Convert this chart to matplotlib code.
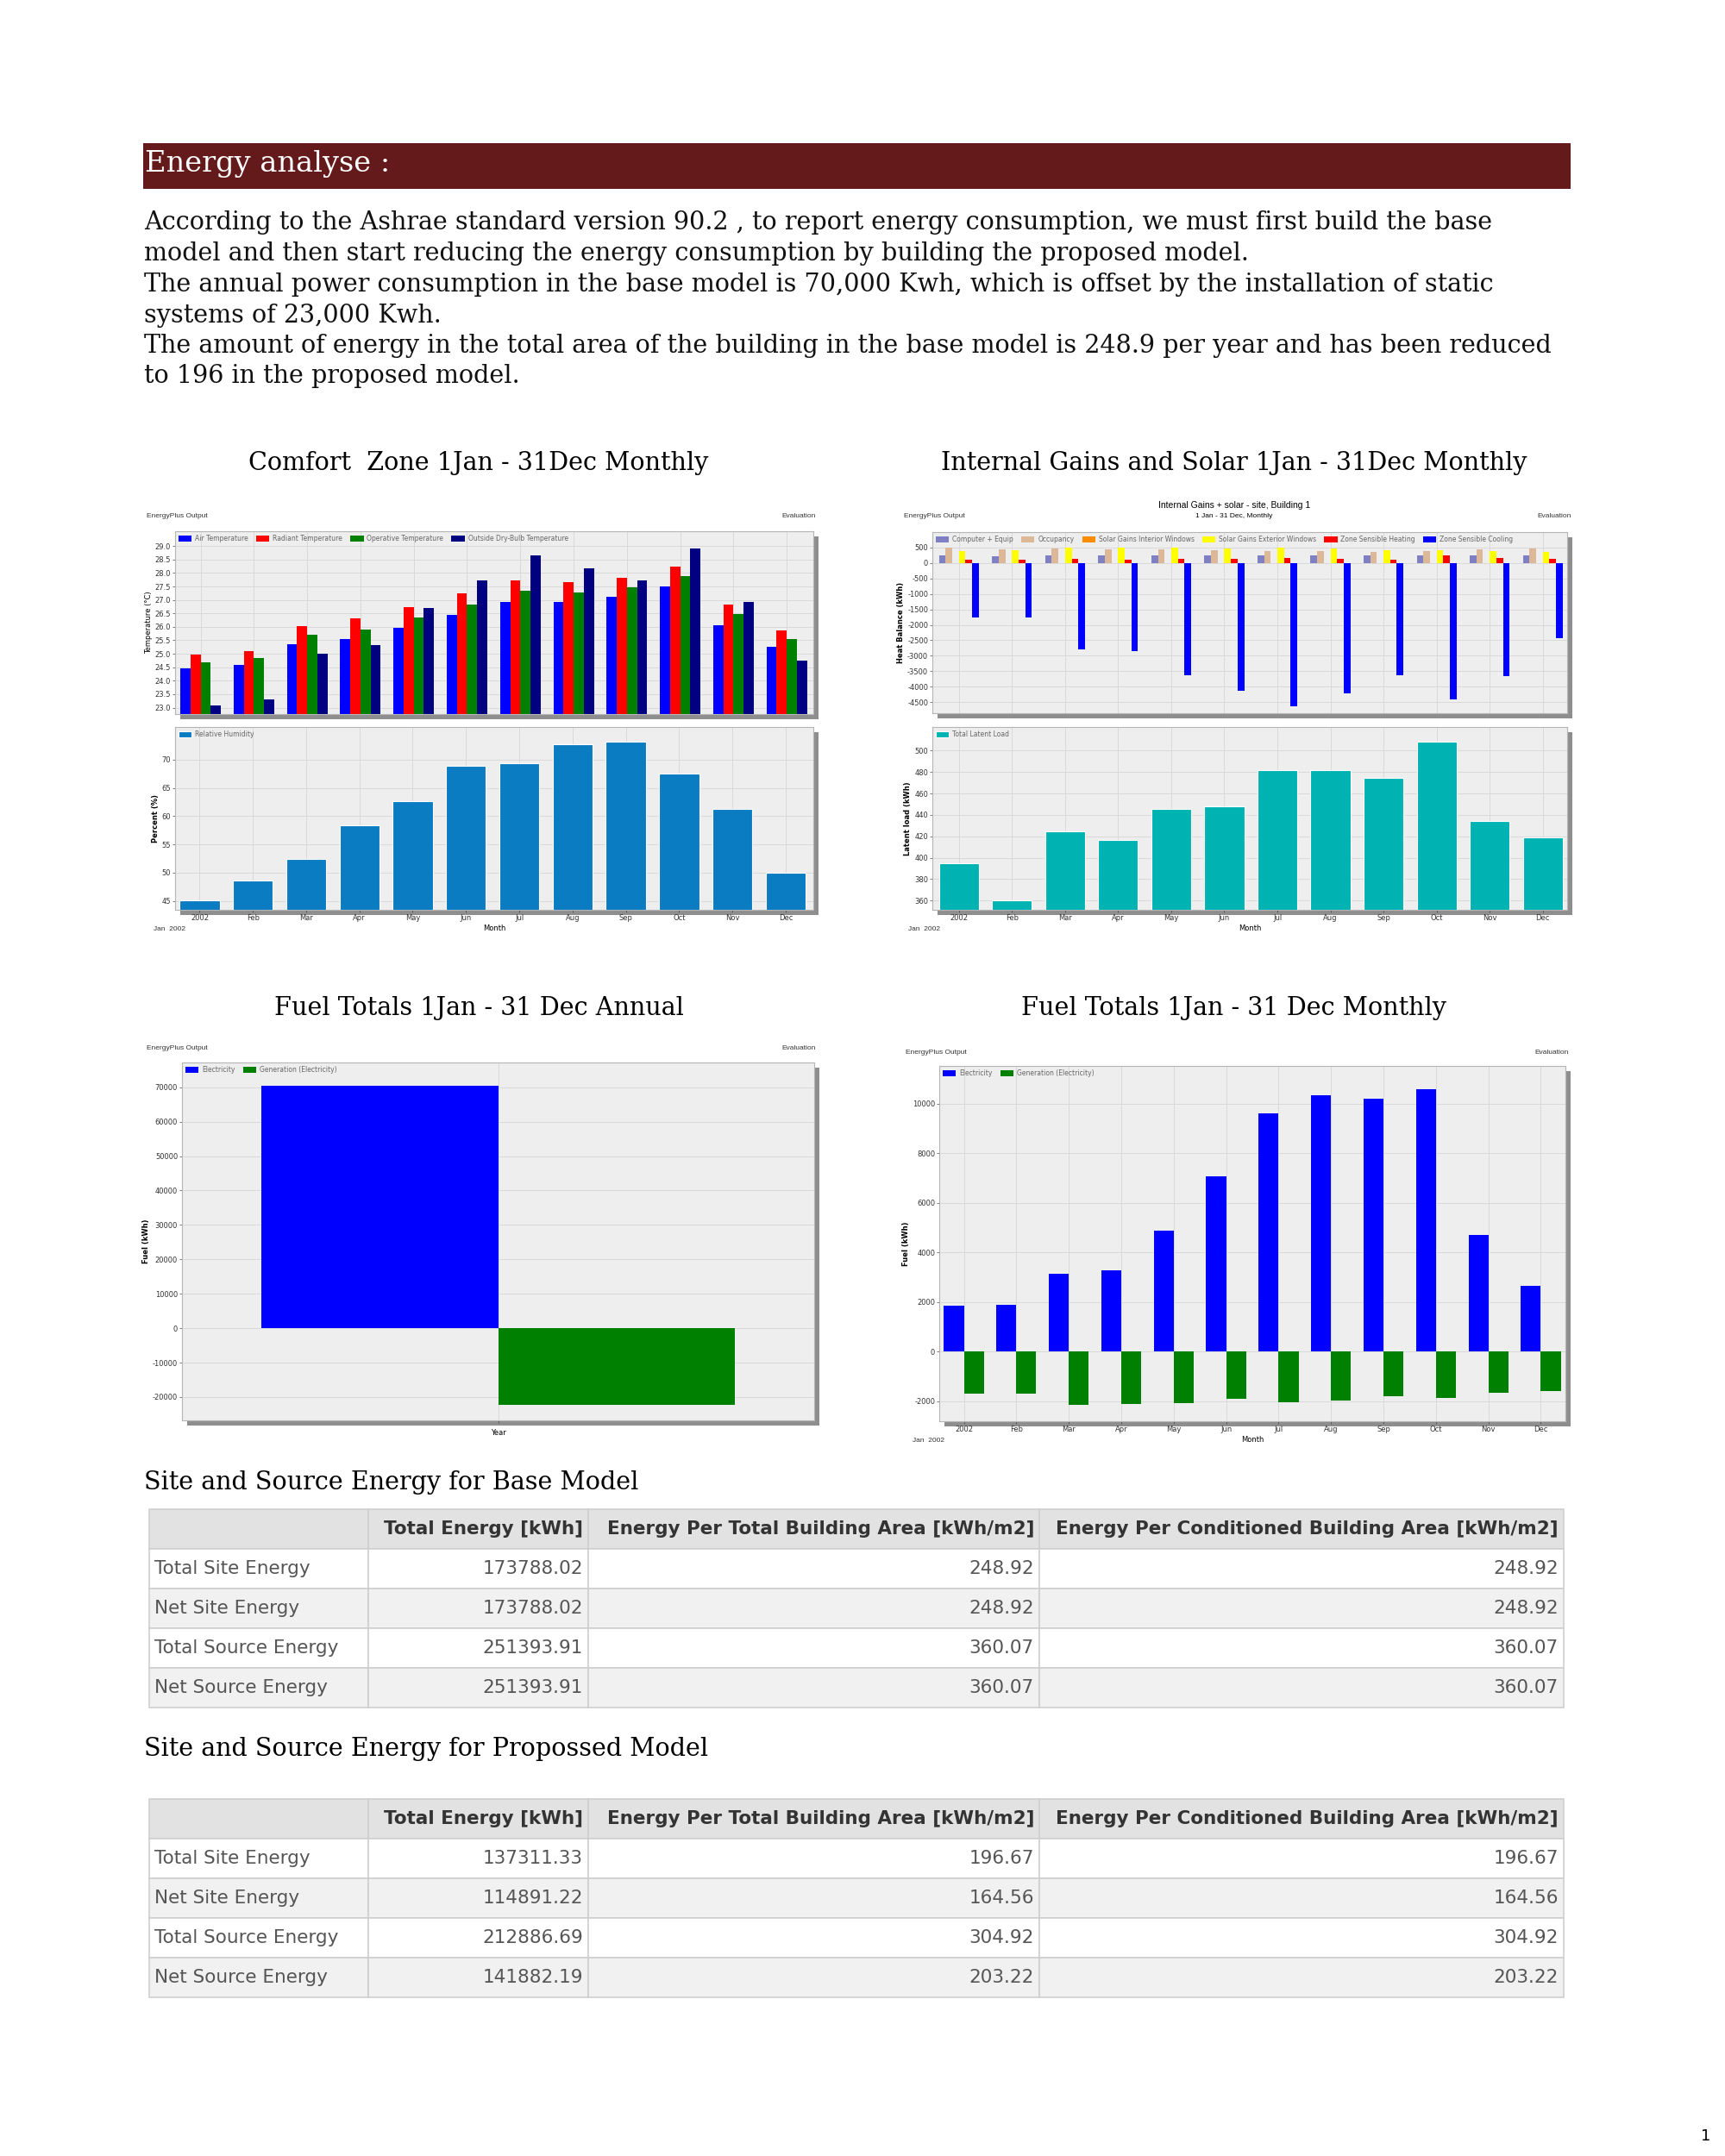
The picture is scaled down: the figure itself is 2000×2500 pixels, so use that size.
import numpy as np
import matplotlib
matplotlib.use("Agg")
import matplotlib.pyplot as plt
from matplotlib.patches import Rectangle
from matplotlib.table import Table

plt.rcParams['axes.unicode_minus'] = False

W, H = 2000, 2500

# ---- data ----
months = ['2002', 'Feb', 'Mar', 'Apr', 'May', 'Jun', 'Jul', 'Aug', 'Sep', 'Oct', 'Nov', 'Dec']

air_temp = [24.47, 24.58, 25.37, 25.54, 25.97, 26.44, 26.93, 26.93, 27.13, 27.51, 26.07, 25.25]
radiant_temp = [24.96, 25.11, 26.04, 26.30, 26.72, 27.25, 27.71, 27.65, 27.83, 28.23, 26.84, 25.86]
operative_temp = [24.69, 24.85, 25.72, 25.91, 26.35, 26.83, 27.33, 27.28, 27.48, 27.87, 26.46, 25.56]
outside_temp = [23.08, 23.32, 25.01, 25.31, 26.69, 27.73, 28.66, 28.17, 27.73, 28.92, 26.93, 24.74]
rel_humidity = [45.1, 48.6, 52.4, 58.4, 62.7, 68.9, 69.4, 72.7, 73.2, 67.5, 61.3, 49.9]

gain_computer = [240, 215, 240, 235, 240, 240, 240, 240, 240, 240, 240, 240]
gain_occupancy = [483, 436, 464, 436, 445, 408, 390, 390, 362, 371, 427, 473]
gain_solar_int = [0] * 12
gain_solar_ext = [371, 399, 501, 501, 501, 464, 501, 464, 418, 418, 371, 343]
zone_heating = [93, 93, 121, 93, 139, 139, 167, 139, 111, 241, 167, 121]
zone_cooling = [-1763, -1763, -2803, -2858, -3628, -4139, -4621, -4213, -3619, -4408, -3656, -2422]
latent_load = [394.5, 360, 424.5, 416.5, 445.7, 447.8, 481.5, 481.5, 474.8, 508, 433.9, 419.2]

annual_electricity = 70400
annual_generation = -22300
monthly_electricity = [1866, 1900, 3152, 3268, 4901, 7080, 9617, 10359, 10208, 10602, 4727, 2642]
monthly_generation = [-1692, -1692, -2144, -2120, -2086, -1900, -2051, -1970, -1784, -1854, -1668, -1587]

row_labels = ['Total Site Energy', 'Net Site Energy', 'Total Source Energy', 'Net Source Energy']
col_labels = ['', 'Total Energy [kWh]', 'Energy Per Total Building Area [kWh/m2]',
              'Energy Per Conditioned Building Area [kWh/m2]']
base_total = [173788.02, 173788.02, 251393.91, 251393.91]
base_per_area = [248.92, 248.92, 360.07, 360.07]
base_per_cond = [248.92, 248.92, 360.07, 360.07]
prop_total = [137311.33, 114891.22, 212886.69, 141882.19]
prop_per_area = [196.67, 164.56, 304.92, 203.22]
prop_per_cond = [196.67, 164.56, 304.92, 203.22]

paragraph = [
    "According to the Ashrae standard version 90.2 , to report energy consumption, we must first build the base",
    "model and then start reducing the energy consumption by building the proposed model.",
    "The annual power consumption in the base model is 70,000 Kwh, which is offset by the installation of static",
    "systems of 23,000 Kwh.",
    "The amount of energy in the total area of the building in the base model is 248.9 per year and has been reduced",
    "to 196 in the proposed model.",
]

SERIF = 'DejaVu Serif'
SANS = 'Liberation Sans'
TXT = '#555555'

fig = plt.figure(figsize=(20, 25), dpi=100)
fig.patch.set_facecolor('white')


def fx(x):
    return x / W


def fy(y):
    return 1 - y / H


def text_px(x, y, s, **kw):
    fig.text(fx(x), fy(y), s, **kw)


def chart_axes(x0, y0, x1, y1):
    # shadow behind the plot box
    fig.patches.append(Rectangle((fx(x0 + 6), fy(y1 + 6)), (x1 - x0) / W, (y1 - y0) / H,
                                 transform=fig.transFigure, facecolor='#8e8e8e',
                                 edgecolor='none', zorder=-1))
    ax = fig.add_axes([fx(x0), fy(y1), (x1 - x0) / W, (y1 - y0) / H])
    ax.set_facecolor('#eeeeee')
    for s in ax.spines.values():
        s.set_color('#b5b5b5')
        s.set_linewidth(0.8)
    ax.grid(True, color='#d9d9d9', linewidth=0.7)
    ax.set_axisbelow(True)
    ax.tick_params(labelsize=6, length=2, width=0.5, colors='#444444', labelcolor='#333333', pad=1.5)
    return ax


def small_legend(ax, ncol):
    ax.legend(loc='upper left', ncol=ncol, frameon=False, fontsize=5.5, handlelength=2.0,
              handleheight=0.9, columnspacing=1.2, handletextpad=0.5,
              borderaxespad=0.15, labelcolor='#666666')


def header_texts(x0, x1, y):
    text_px(x0, y, 'EnergyPlus Output', fontsize=6, family=SANS, color='#333333', va='center')
    text_px(x1, y, 'Evaluation', fontsize=6, family=SANS, color='#333333', va='center', ha='right')


x = np.arange(len(months))

# ---- page header ----
fig.patches.append(Rectangle((fx(166), fy(219)), (1821 - 166) / W, (219 - 166) / H,
                             transform=fig.transFigure, facecolor='#641a1a', edgecolor='none'))
text_px(168, 190, 'Energy analyse :', fontsize=24.2, family=SERIF, color='white', va='center')

line_y = [258, 294, 330, 366, 401, 436]
for s, yy in zip(paragraph, line_y):
    text_px(167, yy, s, fontsize=20.6, family=SERIF, color='#111111', va='center')

# ---- chart titles ----
TS = 20.6
text_px(555, 537, 'Comfort  Zone 1Jan - 31Dec Monthly', fontsize=TS, family=SERIF, ha='center', va='center')
text_px(1431, 537, 'Internal Gains and Solar 1Jan - 31Dec Monthly', fontsize=TS, family=SERIF, ha='center', va='center')
text_px(555, 1169, 'Fuel Totals 1Jan - 31 Dec Annual', fontsize=TS, family=SERIF, ha='center', va='center')
text_px(1431, 1169, 'Fuel Totals 1Jan - 31 Dec Monthly', fontsize=TS, family=SERIF, ha='center', va='center')

# ---- comfort zone ----
header_texts(170, 946, 599)
ax = chart_axes(203, 616, 943, 828)
bw = 0.19
series = [(air_temp, '#0000ff', 'Air Temperature'), (radiant_temp, '#ff0000', 'Radiant Temperature'),
          (operative_temp, '#008000', 'Operative Temperature'),
          (outside_temp, '#000080', 'Outside Dry-Bulb Temperature')]
for i, (vals, c, lab) in enumerate(series):
    ax.bar(x + (i - 1.5) * bw, vals, bw, color=c, label=lab, bottom=0)
ax.set_ylim(22.76, 29.55)
ax.set_yticks(np.arange(23.0, 29.01, 0.5))
ax.set_yticklabels([f'{v:.1f}' for v in np.arange(23.0, 29.01, 0.5)])
ax.set_xlim(-0.48, 11.5)
ax.set_xticks(x)
ax.set_xticklabels([])
ax.tick_params(axis='x', length=0)
ax.set_ylabel('Temperature (°C)', fontsize=6, labelpad=2)
small_legend(ax, 4)

ax = chart_axes(203, 843, 943, 1055)
ax.bar(x, rel_humidity, 0.75, color='#0a7cc1', label='Relative Humidity', edgecolor='white', linewidth=0.8)
ax.set_ylim(43.4, 75.8)
ax.set_yticks(np.arange(45, 71, 5))
ax.set_xlim(-0.46, 11.52)
ax.set_xticks(x)
ax.set_xticklabels(months)
ax.set_ylabel('Percent (%)', fontsize=6, labelpad=2, fontweight='bold')
ax.set_xlabel('Month', fontsize=6, labelpad=2)
small_legend(ax, 1)
text_px(178, 1077, 'Jan  2002', fontsize=6, family=SANS, color='#333333', va='center')

# ---- internal gains ----
text_px(1431, 586, 'Internal Gains + solar - site, Building 1', fontsize=7.5, family=SANS, ha='center', va='center')
text_px(1431, 599, '1 Jan - 31 Dec, Monthly', fontsize=6, family=SANS, ha='center', va='center')
header_texts(1048, 1822, 599)
ax = chart_axes(1081, 617, 1817, 827)
bw = 0.125
gains = [(gain_computer, '#7f7fc4', 'Computer + Equip'), (gain_occupancy, '#ddb898', 'Occupancy'),
         (gain_solar_int, '#ff8c00', 'Solar Gains Interior Windows'),
         (gain_solar_ext, '#ffff00', 'Solar Gains Exterior Windows'),
         (zone_heating, '#ff0000', 'Zone Sensible Heating'), (zone_cooling, '#0000ff', 'Zone Sensible Cooling')]
for i, (vals, c, lab) in enumerate(gains):
    ax.bar(x + (i - 2.5) * bw, vals, bw, color=c, label=lab)
ax.set_ylim(-4850, 990)
ax.set_yticks(np.arange(-4500, 501, 500))
ax.set_xlim(-0.5, 11.46)
ax.set_xticks(x)
ax.set_xticklabels([])
ax.tick_params(axis='x', length=0)
ax.set_ylabel('Heat Balance (kWh)', fontsize=6, labelpad=2, fontweight='bold')
small_legend(ax, 6)

ax = chart_axes(1081, 843, 1817, 1055)
ax.bar(x, latent_load, 0.75, color='#00b3b3', label='Total Latent Load', edgecolor='white', linewidth=0.8)
ax.set_ylim(351.4, 522)
ax.set_yticks(np.arange(360, 501, 20))
ax.set_xlim(-0.5, 11.46)
ax.set_xticks(x)
ax.set_xticklabels(months)
ax.set_ylabel('Latent load (kWh)', fontsize=6, labelpad=2, fontweight='bold')
ax.set_xlabel('Month', fontsize=6, labelpad=2)
small_legend(ax, 1)
text_px(1053, 1077, 'Jan  2002', fontsize=6, family=SANS, color='#333333', va='center')

# ---- fuel totals annual ----
header_texts(170, 946, 1216)
ax = chart_axes(211, 1232, 944, 1647)
ax.bar([-0.1875], [annual_electricity], 0.375, color='#0000ff', label='Electricity')
ax.bar([0.1875], [annual_generation], 0.375, color='#008000', label='Generation (Electricity)')
ax.set_ylim(-26770, 77190)
ax.set_yticks(np.arange(-20000, 70001, 10000))
ax.set_xlim(-0.5, 0.5)
ax.set_xticks([0])
ax.set_xticklabels([''])
ax.set_xlabel('Year', fontsize=6, labelpad=4)
ax.set_ylabel('Fuel (kWh)', fontsize=6, labelpad=2, fontweight='bold')
small_legend(ax, 2)

# ---- fuel totals monthly ----
header_texts(1050, 1819, 1220)
ax = chart_axes(1089, 1236, 1815, 1648)
ax.bar(x - 0.19, monthly_electricity, 0.38, color='#0000ff', label='Electricity')
ax.bar(x + 0.19, monthly_generation, 0.38, color='#008000', label='Generation (Electricity)')
ax.set_ylim(-2804, 11530)
ax.set_yticks(np.arange(-2000, 10001, 2000))
ax.set_xlim(-0.47, 11.47)
ax.set_xticks(x)
ax.set_xticklabels(months)
ax.set_xlabel('Month', fontsize=6, labelpad=2)
ax.set_ylabel('Fuel (kWh)', fontsize=6, labelpad=2, fontweight='bold')
small_legend(ax, 2)
text_px(1058, 1670, 'Jan  2002', fontsize=6, family=SANS, color='#333333', va='center')


# ---- tables ----
def energy_table(y0, y1, totals, per_area, per_cond):
    col_px = [254, 255, 523, 608]
    x0 = 173
    ax = fig.add_axes([fx(x0), fy(y1), sum(col_px) / W, (y1 - y0) / H])
    ax.axis('off')
    tbl = Table(ax, bbox=[0, 0, 1, 1])
    rows = [col_labels] + [[lab, f'{a:.2f}', f'{b:.2f}', f'{c:.2f}']
                           for lab, a, b, c in zip(row_labels, totals, per_area, per_cond)]
    for r, row in enumerate(rows):
        for c, s in enumerate(row):
            if r == 0:
                fc = '#e2e2e2'
            else:
                fc = 'white' if r % 2 == 1 else '#f1f1f1'
            loc = 'left' if (c == 0 and r > 0) else 'right'
            cell = tbl.add_cell(r, c, width=col_px[c], height=1, text=s, loc=loc,
                                facecolor=fc, edgecolor='#cfcfcf')
            cell.PAD = 6 / col_px[c]
            cell.set_linewidth(1.2)
            t = cell.get_text()
            t.set_family('DejaVu Sans')
            if r == 0:
                t.set_fontweight('bold')
                t.set_color('#333333')
            else:
                t.set_color(TXT)
    tbl.auto_set_font_size(False)
    tbl.set_fontsize(15.5)
    ax.add_table(tbl)


text_px(167, 1719, 'Site and Source Energy for Base Model', fontsize=TS, family=SERIF, va='center')
energy_table(1750, 1980, base_total, base_per_area, base_per_cond)
text_px(167, 2028, 'Site and Source Energy for Propossed Model', fontsize=TS, family=SERIF, va='center')
energy_table(2086, 2316, prop_total, prop_per_area, prop_per_cond)

text_px(1978, 2477, '1', fontsize=13, family='DejaVu Sans', va='center', ha='center')

fig.savefig('out.png', dpi=100, facecolor='white')
